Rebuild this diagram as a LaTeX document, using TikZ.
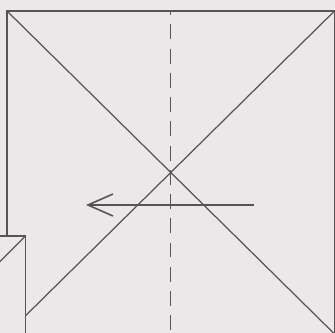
\documentclass[tikz,border=0pt]{standalone}
\usetikzlibrary{arrows.meta}
\definecolor{paper}{RGB}{236,231,232}
\definecolor{ink}{RGB}{85,85,85}
\begin{document}
\begin{tikzpicture}[x=0.02cm, y=-0.02cm,
        edge/.style={draw=ink, line width=1.1pt},
        crease/.style={draw=ink, line width=0.7pt},
        valley/.style={draw=ink, line width=0.8pt, dash pattern=on 8.5pt off 5.3pt, dash phase=6.2pt},
        move/.style={draw=ink, line width=0.7pt, -{Straight Barb[length=5mm, width=4.4mm, line width=0.9pt]}}
    ]
        % Frame
        \fill[paper] (0,0) rectangle (335,333);
        \useasboundingbox (0,0) rectangle (335,333);
        \clip (0,0) rectangle (335,333);

        % Corners
        \coordinate (tl) at (7,11);
        \coordinate (tr) at (334.5,11);
        \coordinate (br) at (334.5,334);
        \coordinate (bl) at (7,334);
        \coordinate (top) at (170.5,11);
        \coordinate (bottom) at (170.5,334);

        % Big square and creases
        \draw[edge] (tl) rectangle (br);
        \draw[crease] (tl) -- (br);
        \draw[crease] (tr) -- (bl);
        \draw[valley] (top) -- (bottom);

        % Arrow
        \coordinate (from) at (254,205);
        \coordinate (to) at (86,205);
        \draw[move] (from) -- (to);

        % Small square
        \coordinate (sq-tr) at (25.5,236);
        \coordinate (sq-bl) at (-124.5,386);
        \filldraw[edge, fill=paper] (sq-bl) rectangle (sq-tr);
        \draw[crease] (sq-tr) -- (sq-bl);
    \end{tikzpicture}
\end{document}
